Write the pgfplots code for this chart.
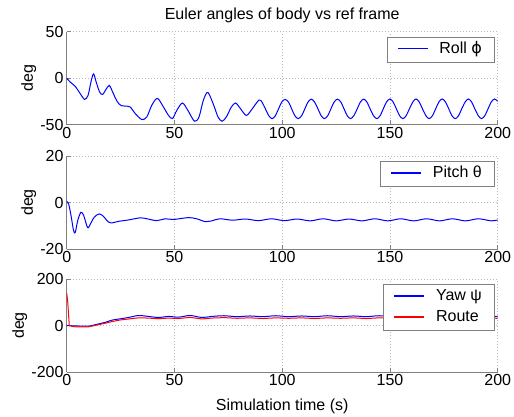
\documentclass[border=0pt]{standalone}
\usepackage{fontspec}
\setmainfont{Liberation Sans}
\newfontfamily\dejavu{DejaVu Sans}
\usepackage{pgfplots}
\pgfplotsset{compat=1.18}
\definecolor{axgray}{gray}{0.5}
\definecolor{gridgray}{gray}{0.72}
\newcommand\ff{\fontsize{16}{19}\selectfont}
\pgfplotsset{
  mystyle/.style={
    scale only axis, width=431pt, height=93pt,
    anchor=south west,
    xmin=0, xmax=200, xtick={0,50,...,200},
    axis x line*=bottom, axis y line*=left,
    axis line style={-, draw=axgray, line width=0.7pt},
    tick align=inside, major tick length=4.3pt,
    tick style={draw=axgray, line width=0.7pt},
    grid=major, grid style={gridgray, line width=0.6pt, dash pattern=on 1pt off 2pt},
    /pgf/number format/assume math mode=true,
    tick label style={font=\ff},
    xticklabel style={inner ysep=2.5pt},
    yticklabel style={inner xsep=3pt},
    ylabel={deg}, ylabel style={font=\ff, inner sep=1pt},
    legend style={font=\ff, draw=axgray, line width=0.6pt, fill=white, at={(1,1)}, anchor=north east,
      xshift=-3.5pt, yshift=-5pt, inner xsep=10pt, inner ysep=2pt, cells={anchor=west},
      nodes={inner xsep=2pt, inner ysep=2pt, text height=12.5pt, text depth=4.5pt},
      /tikz/column sep=9pt, /tikz/row sep=0pt},
    legend image code/.code={\draw[#1, line width=1.4pt] (0pt,0.8pt) -- (30pt,0.8pt);},
    every axis plot/.append style={no markers, line width=1pt},
  }
}
\begin{document}
\begin{tikzpicture}[x=1pt,y=1pt]
\path[use as bounding box] (0,0) rectangle (514,416);
% ---------- Roll ----------
\begin{axis}[mystyle, at={(66.7pt,291.3pt)}, ymin=-50, ymax=50, ytick={-50,0,50},
  title={Euler angles of body vs ref frame}, title style={font=\ff, at={(0.5,1)}, anchor=base, yshift=6.5pt}]
\addplot[draw=blue, smooth] coordinates {
(0,0) (1.7,-4.3) (4,-8.9) (6.3,-16.7) (8.3,-22.8) (9.9,-18.5) (11.4,-2.5) (12.5,4.6) (13.7,-4.3)
(15.3,-15) (16.7,-17.4) (18.4,-11.4) (19.8,-7.8) (21,-13.2) (23.3,-24.6) (25.3,-29.5) (27.9,-29.9)
(29.5,-31) (31.8,-38) (34.9,-44.5) (37.2,-41.6) (39.5,-29) (42.1,-21.7) (44.9,-31) (47.2,-39.9)
(49.1,-43.4) (51.1,-34.5) (53.7,-26.7) (56.2,-34.5) (59.3,-46.3) (61.4,-41.6) (63.4,-23.8) (65.5,-15.3)
(68.2,-29) (70.2,-41.6) (72.1,-46.3) (74.1,-41.6) (76.4,-31) (78.4,-26.7) (80.6,-32.7) (83.3,-40)
(85.6,-34.5) (89.2,-23.5) (90.7,-26) (92.2,-33) (93.8,-40.4) (95.3,-43.5) (96.8,-40.4) (98.3,-33)
(99.8,-25.6) (101.35,-22.8) (102.9,-25.6) (104.4,-33) (105.9,-40.4) (107.4,-43.5) (109,-40.4) (110.5,-33)
(112,-25.6) (113.5,-22.5) (115,-25.6) (116.6,-33) (118.1,-40.4) (119.6,-43.5) (121.1,-40.4) (122.6,-33)
(124.1,-25.6) (125.65,-22.5) (127.2,-25.6) (128.7,-33) (130.2,-40.4) (131.7,-43.5) (133.2,-40.4) (134.8,-33)
(136.3,-25.6) (137.8,-22.5) (139.3,-25.6) (140.8,-33) (142.4,-40.4) (143.9,-43.5) (145.4,-40.4) (146.9,-33)
(148.4,-25.6) (149.95,-22.3) (151.5,-25.6) (153,-33) (154.5,-40.4) (156,-43.5) (157.5,-40.4) (159,-33)
(160.6,-25.6) (162.1,-22.3) (163.6,-25.6) (165.1,-33) (166.7,-40.4) (168.2,-43.5) (169.7,-40.4) (171.2,-33)
(172.7,-25.6) (174.25,-22.3) (175.8,-25.6) (177.3,-33) (178.8,-40.4) (180.3,-43.5) (181.8,-40.4) (183.3,-33)
(184.9,-25.6) (186.4,-22.3) (187.9,-25.6) (189.4,-33) (191,-40.4) (192.5,-43.5) (194,-40.4) (195.5,-33)
(197,-25.6) (198.55,-22.3) (200,-25)
};
\addlegendentry{Roll {\dejavu ϕ}}
\end{axis}
% ---------- Pitch ----------
\begin{axis}[mystyle, at={(66.7pt,167pt)}, ymin=-20, ymax=20, ytick={-20,0,20}]
\addplot[draw=blue, smooth] coordinates {
(0,0.4) (0.9,-0.6) (2,-5.6) (3.2,-12.1) (4,-12.8) (5.1,-7.8) (6.6,-4.2) (7.9,-5.6) (9.7,-10.8)
(11,-9.2) (12.8,-6.3) (15.1,-4.9) (17.1,-6) (18.7,-7.8) (20.5,-8.8) (24.1,-8.1) (28.7,-7.5)
(34.1,-6.6) (37.2,-7) (41.8,-7.8) (45.7,-7) (49.5,-7.3) (56.5,-6.5) (60.3,-7) (64.2,-8.2) (67.3,-7.9)
(71,-7.0) (77,-7.6) (83,-7.1) (89,-7.8) (95,-7.0) (101,-7.8) (107,-7.1) (113,-7.9) (119,-7.0)
(125,-7.9) (131,-7.1) (137,-7.9) (143,-7.0) (149,-7.9) (155,-7.0) (161,-7.9) (167,-7.0) (173,-7.9)
(179,-7.0) (185,-7.9) (191,-7.0) (197,-7.9) (200,-7.5)
};
\addlegendentry{Pitch θ}
\end{axis}
% ---------- Yaw ----------
\begin{axis}[mystyle, at={(66.7pt,44pt)}, ymin=-200, ymax=200, ytick={-200,0,200},
  xlabel={Simulation time (s)}, xlabel style={font=\ff, at={(0.5,0)}, anchor=base, yshift=-38pt}]
\addplot[draw=blue, smooth] coordinates {
(0,0) (2,-1) (5,-2) (8,-3) (10.2,-3) (14,5) (18,14) (21,23) (25,29) (28.7,34.5) (33.3,43) (38,39)
(42.6,34.5) (47.2,39) (51.9,36) (57.3,43) (62.7,34.5) (67.3,39) (73,42) (79,38) (85,41) (91,38)
(97,42) (103,38) (109,41) (115,38) (121,42) (127,38) (133,41) (139,38) (145,42) (151,38) (157,41)
(163,38) (169,42) (175,38) (181,41) (187,38) (193,42) (200,39)
};
\addlegendentry{Yaw ψ}
\addplot[draw=red] coordinates {
(0,140) (0.5,100) (1.2,0) (3,-5) (6,-6) (10,-6) (14,2) (18,10) (21,17) (25,24) (28.7,28) (33.3,33)
(38,32) (42.6,29) (47.2,32) (51.9,30) (57.3,35) (62.7,28) (67.3,32) (73,34) (79,31) (85,33) (91,30)
(97,33) (103,31) (109,33) (115,30) (121,33) (127,31) (133,33) (139,30) (145,33) (151,31) (157,33)
(163,30) (169,33) (175,31) (181,33) (187,30) (193,33) (200,31)
};
\addlegendentry{Route}
\end{axis}
\end{tikzpicture}
\end{document}
